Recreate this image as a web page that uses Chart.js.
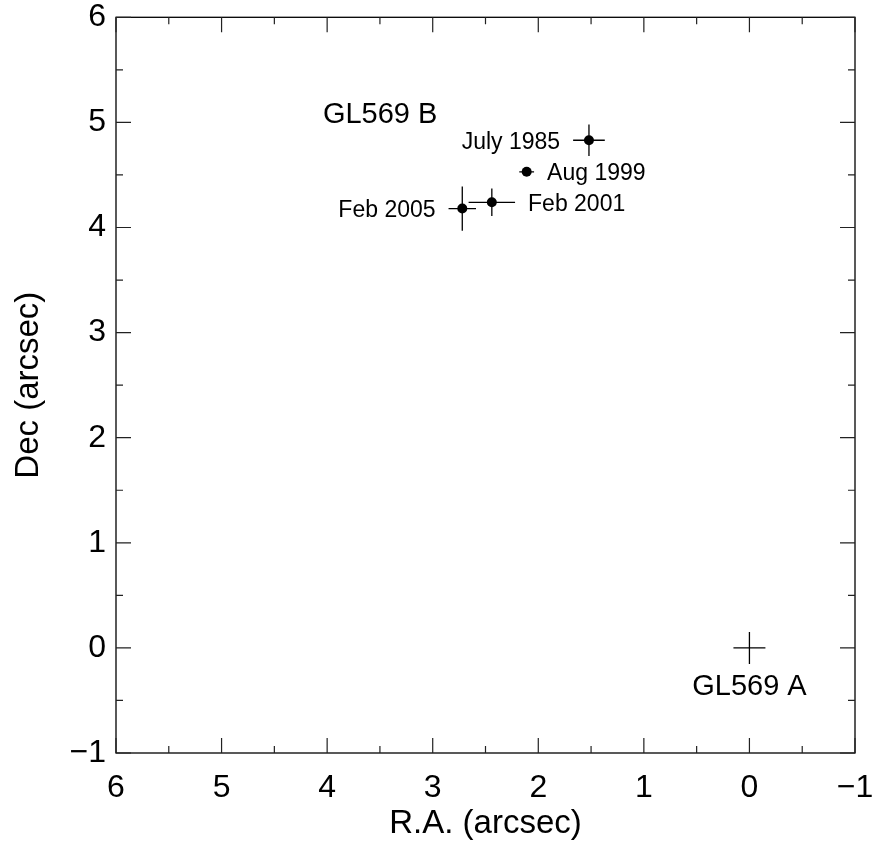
<!DOCTYPE html>
<html>
<head>
<meta charset="utf-8">
<script src="https://cdn.jsdelivr.net/npm/chart.js@4.4.1/dist/chart.umd.min.js"></script>
<style>
  html, body { margin: 0; padding: 0; background: #fff; }
  #wrap { width: 874px; height: 846px; }
</style>
</head>
<body>
<div id="wrap"><canvas id="chart" width="874" height="846"></canvas></div>
<script>
const FONT = '"Liberation Sans", Arial, Helvetica, sans-serif';

// companion positions relative to GL569 A, by epoch
const epochs = ["July 1985", "Aug 1999", "Feb 2001", "Feb 2005"];
const raOffsets = [1.52, 2.11, 2.44, 2.72];
const decOffsets = [4.83, 4.53, 4.24, 4.18];
const raErrors = [0.15, 0.07, 0.22, 0.13];
const decErrors = [0.15, 0.03, 0.13, 0.21];
const labelSides = ["left", "right", "right", "left"];

const primaryName = "GL569 A";
const primaryPos = { x: 0, y: 0 };
const primaryLabelPos = { x: 0, y: -0.37 };
const secondaryName = "GL569 B";
const secondaryLabelPos = { x: 4.04, y: 5.075 };

const axisMin = -1;
const axisMax = 6;
const minorStep = 0.5;

const fmtTick = (v) => (v < 0 ? "\u2212" + Math.abs(v) : String(v));

// error bars, epoch labels and star names
const annotatePlugin = {
  id: "annotate",
  beforeDatasetsDraw(chart) {
    const { ctx, scales: { x, y } } = chart;
    ctx.save();
    ctx.strokeStyle = "#000";
    ctx.lineWidth = 1.3;
    epochs.forEach((_, i) => {
      const px = x.getPixelForValue(raOffsets[i]);
      const py = y.getPixelForValue(decOffsets[i]);
      const x0 = x.getPixelForValue(raOffsets[i] - raErrors[i]);
      const x1 = x.getPixelForValue(raOffsets[i] + raErrors[i]);
      const y0 = y.getPixelForValue(decOffsets[i] - decErrors[i]);
      const y1 = y.getPixelForValue(decOffsets[i] + decErrors[i]);
      ctx.beginPath();
      ctx.moveTo(x0, py); ctx.lineTo(x1, py);
      ctx.moveTo(px, y0); ctx.lineTo(px, y1);
      ctx.stroke();
    });
    ctx.restore();
  },
  afterDraw(chart) {
    const { ctx, chartArea: a, scales: { x, y } } = chart;
    ctx.save();
    // frame
    ctx.strokeStyle = "#000";
    ctx.lineWidth = 1.3;
    ctx.strokeRect(a.left, a.top, a.right - a.left, a.bottom - a.top);
    // inward ticks on all four sides
    ctx.lineWidth = 1.2;
    ctx.strokeStyle = "#222";
    for (let v = axisMin; v <= axisMax + 1e-9; v += minorStep) {
      const major = Math.abs(v - Math.round(v)) < 1e-9;
      const len = major ? 15 : 7;
      const px = x.getPixelForValue(v);
      const py = y.getPixelForValue(v);
      ctx.beginPath();
      ctx.moveTo(px, a.bottom); ctx.lineTo(px, a.bottom - len);
      ctx.moveTo(px, a.top); ctx.lineTo(px, a.top + len);
      ctx.moveTo(a.left, py); ctx.lineTo(a.left + len, py);
      ctx.moveTo(a.right, py); ctx.lineTo(a.right - len, py);
      ctx.stroke();
    }
    // epoch labels
    ctx.fillStyle = "#000";
    ctx.textBaseline = "middle";
    ctx.font = "23px " + FONT;
    epochs.forEach((name, i) => {
      const py = y.getPixelForValue(decOffsets[i]) + 2;
      if (labelSides[i] === "left") {
        const edge = x.getPixelForValue(raOffsets[i] + raErrors[i]);
        ctx.textAlign = "right";
        ctx.fillText(name, edge - 13, py);
      } else {
        const edge = x.getPixelForValue(raOffsets[i] - raErrors[i]);
        ctx.textAlign = "left";
        ctx.fillText(name, edge + 13, py);
      }
    });
    // star names
    ctx.font = "29px " + FONT;
    ctx.textAlign = "left";
    ctx.fillText(secondaryName, x.getPixelForValue(secondaryLabelPos.x), y.getPixelForValue(secondaryLabelPos.y));
    ctx.textAlign = "center";
    ctx.fillText(primaryName, x.getPixelForValue(primaryLabelPos.x), y.getPixelForValue(primaryLabelPos.y));
    ctx.restore();
  },
};

const ctx = document.getElementById("chart").getContext("2d");
new Chart(ctx, {
  type: "scatter",
  data: {
    datasets: [
      {
        label: secondaryName,
        data: epochs.map((_, i) => ({ x: raOffsets[i], y: decOffsets[i] })),
        pointRadius: 5,
        pointBackgroundColor: "#000",
        pointBorderWidth: 0,
      },
      {
        label: primaryName,
        data: [primaryPos],
        pointStyle: "cross",
        pointRadius: 16,
        borderColor: "#000",
        pointBorderWidth: 1.3,
      },
    ],
  },
  options: {
    responsive: false,
    animation: false,
    events: [],
    layout: { padding: { top: 14, right: 19, left: 0, bottom: 0 } },
    plugins: { legend: { display: false }, tooltip: { enabled: false } },
    scales: {
      x: {
        type: "linear",
        reverse: true,
        min: axisMin,
        max: axisMax,
        grid: { display: false, drawTicks: false },
        border: { display: false },
        ticks: {
          stepSize: 1,
          padding: 16,
          color: "#000",
          font: { family: FONT, size: 32 },
          callback: fmtTick,
        },
        title: {
          display: true,
          text: "R.A. (arcsec)",
          color: "#000",
          font: { family: FONT, size: 33 },
          padding: { top: 0, bottom: 2 },
        },
        afterFit: (s) => {
          s.height = 93;
          s.paddingLeft = 0;
          s.paddingRight = 0;
        },
      },
      y: {
        type: "linear",
        min: axisMin,
        max: axisMax,
        grid: { display: false, drawTicks: false },
        border: { display: false },
        ticks: {
          stepSize: 1,
          padding: 10,
          color: "#000",
          font: { family: FONT, size: 32 },
          callback: fmtTick,
        },
        title: {
          display: true,
          text: "Dec (arcsec)",
          color: "#000",
          font: { family: FONT, size: 33 },
          padding: { top: 9, bottom: 0 },
        },
        afterFit: (s) => {
          s.width = 116;
          s.paddingTop = 0;
          s.paddingBottom = 0;
        },
      },
    },
  },
  plugins: [annotatePlugin],
});
</script>
</body>
</html>
